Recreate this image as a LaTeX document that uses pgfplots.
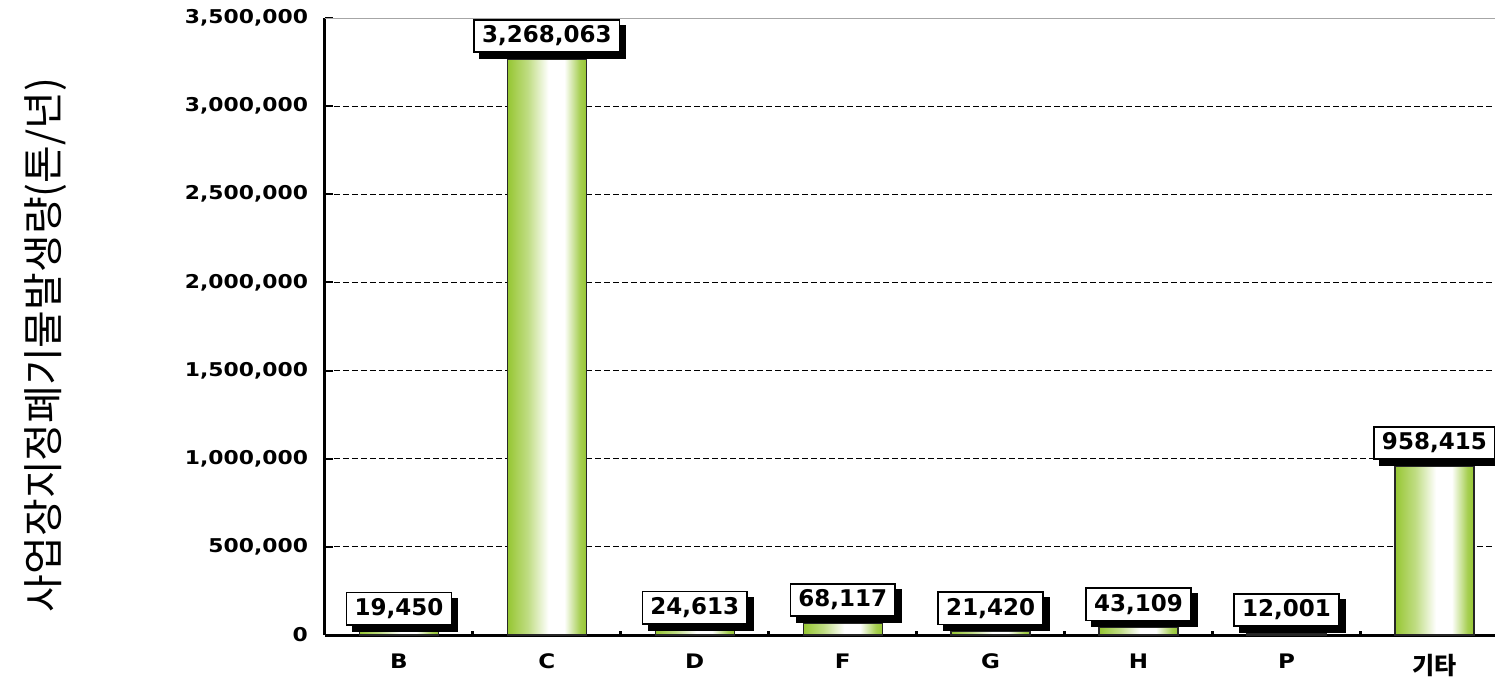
\documentclass[border=0pt]{standalone}
\usepackage{pgfplots}
\pgfplotsset{compat=1.18}
\usepackage{fontspec}
\usetikzlibrary{shadows}
\setmainfont{DejaVu Sans}
\newfontfamily\tickfont[FakeStretch=1.15]{DejaVu Sans}
\newfontfamily\labfont{DejaVu Sans}
\newfontfamily\kr{Noto Sans CJK KR}
\definecolor{barg}{RGB}{150,198,50}
\pgfdeclarehorizontalshading{barshade}{100bp}{color(0bp)=(barg); color(25bp)=(barg); color(38bp)=(barg!60); color(51bp)=(white); color(61bp)=(white); color(71bp)=(barg!85); color(75bp)=(barg); color(100bp)=(barg)}
\pgfplotsset{
	onebar/.style={ybar,bar shift=0pt,bar width=39.5pt,draw=black!85,line width=0.7pt,shade,shading=barshade,forget plot},
}
\begin{document}
\begin{tikzpicture}
\useasboundingbox (0,0) rectangle (747.5pt,338.5pt);
\begin{axis}[
	at={(162.5pt,21pt)},anchor=south west,
	width=585pt,height=308.5pt,scale only axis,
	xmin=-0.5,xmax=7.41,ymin=0,ymax=3500000,
	axis x line*=bottom,axis y line*=left,
	axis line style={black,line width=1.5pt},
	xtick={0,...,7},
	xticklabels={B,C,D,F,G,H,P,{\kr\bfseries\fontsize{12}{13}\selectfont 기타}},
	xtick style={draw=none},
	xticklabel style={font=\tickfont\bfseries\fontsize{10}{11}\selectfont,yshift=-6pt},
	extra x ticks={0.5,1.5,...,6.5},
	extra x tick labels={},
	extra x tick style={xtick style={draw=black,line width=1.5pt},major tick length=2pt,grid=none},
	ytick={0,500000,...,3000000},
	extra y ticks={3500000},
	extra y tick style={grid=none},
	scaled y ticks=false,
	yticklabel style={/pgf/number format/.cd,fixed,1000 sep={,},assume math mode=true,/tikz/.cd,font=\tickfont\bfseries\fontsize{9.5}{10}\selectfont,xshift=-5pt},
	tick align=inside,major tick length=4pt,
	ytick style={black,line width=1pt},
	ymajorgrids,
	major grid style={black,line width=0.5pt,dash pattern=on 3pt off 1.5pt},
	ylabel={\kr 사업장지정폐기물발생량(톤/년)},
	ylabel style={at={(axis description cs:-0.239,0.47)},anchor=center,font=\fontsize{20.5}{22}\selectfont},
	]
\draw[gray!70,line width=0.7pt] (rel axis cs:0,1) -- (rel axis cs:1,1);
\addplot[onebar] coordinates {(0,19450)};
\addplot[onebar] coordinates {(1,3268063)};
\addplot[onebar] coordinates {(2,24613)};
\addplot[onebar] coordinates {(3,68117)};
\addplot[onebar] coordinates {(4,21420)};
\addplot[onebar] coordinates {(5,43109)};
\addplot[onebar] coordinates {(6,12001)};
\addplot[onebar] coordinates {(7,958415)};
% labels only
\addplot[ybar,bar shift=0pt,bar width=39.5pt,draw=none,fill=none,
	nodes near coords,point meta=explicit symbolic,
	every node near coord/.append style={draw=black,line width=0.8pt,fill=white,
		font=\labfont\bfseries\fontsize{11.5}{12}\selectfont,
		inner xsep=4pt,inner ysep=3pt,anchor=south,yshift=3pt,
		drop shadow={shadow xshift=3pt,shadow yshift=-3pt,fill=black,draw=black,opacity=1}}]
	coordinates {
	(0,19450) [19,450]
	(1,3268063) [3,268,063]
	(2,24613) [24,613]
	(3,68117) [68,117]
	(4,21420) [21,420]
	(5,43109) [43,109]
	(6,12001) [12,001]
	(7,958415) [958,415]
	};
\end{axis}
\end{tikzpicture}
\end{document}
